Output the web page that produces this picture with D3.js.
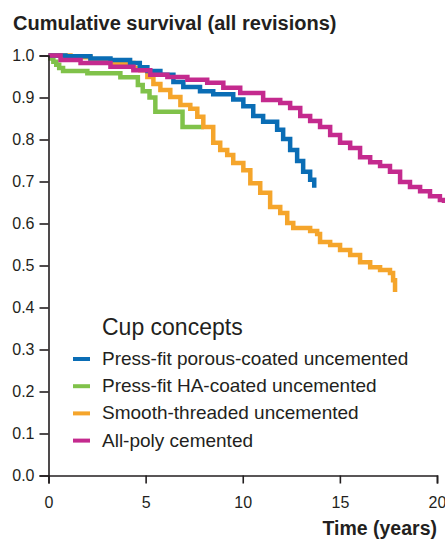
<!DOCTYPE html>
<html>
<head>
<meta charset="utf-8">
<script src="https://d3js.org/d3.v7.min.js"></script>
<style>
  body { margin: 0; background: #fff; }
  svg text { font-family: "Liberation Sans", Arial, Helvetica, sans-serif; fill: #231f20; }
</style>
</head>
<body>
<svg id="chart" width="445" height="540"></svg>
<script>
// Kaplan-Meier survival estimates (time in years, survival)
var poroTime = [0, 0.87, 2.16, 3.19, 4.2, 4.7, 5.09, 5.76, 6.43, 6.94, 7.8, 8.48, 9.51, 10.03, 10.54, 11.05, 11.77, 12.08, 12.44, 12.8, 13.11, 13.47, 13.68, 13.68];
var poroSurv = [1.0, 0.998, 0.993, 0.989, 0.982, 0.972, 0.963, 0.954, 0.937, 0.925, 0.915, 0.908, 0.895, 0.879, 0.856, 0.842, 0.823, 0.801, 0.775, 0.749, 0.723, 0.704, 0.685, 0.685];

var haTime = [0, 0.1, 0.25, 0.4, 0.55, 0.75, 2.0, 3.7, 4.6, 4.85, 5.2, 5.5, 6.9, 8.0];
var haSurv = [1.0, 0.993, 0.985, 0.978, 0.97, 0.963, 0.958, 0.948, 0.93, 0.915, 0.90, 0.866, 0.83, 0.83];

var smoothTime = [0, 1.13, 2.16, 3.19, 4.37, 4.73, 5.09, 5.4, 5.76, 6.27, 6.79, 7.3, 7.66, 7.97, 8.48, 8.84, 9.2, 9.51, 10.03, 10.39, 10.9, 11.41, 11.93, 12.29, 12.6, 13.47, 13.83, 13.98, 14.5, 15.01, 15.53, 16.04, 16.56, 17.07, 17.58, 17.74, 17.84, 17.84];
var smoothSurv = [1.0, 0.996, 0.989, 0.982, 0.970, 0.965, 0.949, 0.932, 0.918, 0.901, 0.882, 0.873, 0.854, 0.830, 0.792, 0.775, 0.763, 0.744, 0.727, 0.696, 0.673, 0.639, 0.625, 0.601, 0.589, 0.582, 0.575, 0.556, 0.549, 0.537, 0.525, 0.508, 0.496, 0.489, 0.482, 0.465, 0.437, 0.437];

var polyTime = [0, 0.62, 1.65, 3.19, 4.37, 5.24, 6.12, 7.15, 8.17, 9.0, 9.87, 11.05, 11.93, 12.44, 12.96, 13.47, 13.98, 14.5, 15.01, 15.53, 16.04, 16.56, 17.07, 17.58, 18.1, 18.61, 19.13, 19.64, 20.15, 20.36];
var polySurv = [1.0, 0.989, 0.982, 0.973, 0.965, 0.954, 0.949, 0.942, 0.935, 0.923, 0.911, 0.894, 0.887, 0.875, 0.856, 0.844, 0.830, 0.811, 0.792, 0.780, 0.758, 0.746, 0.737, 0.723, 0.699, 0.687, 0.677, 0.665, 0.656, 0.649];

var seriesNames = ["Press-fit porous-coated uncemented", "Press-fit HA-coated uncemented", "Smooth-threaded uncemented", "All-poly cemented"];
var seriesColors = ["#0a6db5", "#80c24a", "#f5a52b", "#c42a8e"];
var xTicks = [0, 5, 10, 15, 20];
var yTicks = [0, 0.1, 0.2, 0.3, 0.4, 0.5, 0.6, 0.7, 0.8, 0.9, 1.0];

var series = [
  { name: seriesNames[0], color: seriesColors[0], t: poroTime, s: poroSurv },
  { name: seriesNames[1], color: seriesColors[1], t: haTime, s: haSurv },
  { name: seriesNames[2], color: seriesColors[2], t: smoothTime, s: smoothSurv },
  { name: seriesNames[3], color: seriesColors[3], t: polyTime, s: polySurv }
];
var drawOrder = [1, 2, 0, 3];

var plotL = 48.5, plotR = 437, plotT = 55.5, plotB = 475.5;

var svg = d3.select("#chart");

var x = d3.scaleLinear().domain([0, 20]).range([plotL, plotR]);
var y = d3.scaleLinear().domain([0, 1]).range([plotB, plotT]);

svg.append("text")
  .attr("x", 13).attr("y", 30)
  .style("font-size", "20px").style("font-weight", "bold")
  .text("Cumulative survival (all revisions)");

// curves
var line = d3.line()
  .x(function(d) { return x(d[0]); })
  .y(function(d) { return y(d[1]); })
  .curve(d3.curveStepAfter);

drawOrder.forEach(function(i) {
  var sr = series[i];
  var pts = sr.t.map(function(t, j) { return [t, sr.s[j]]; });
  svg.append("path")
    .attr("d", line(pts))
    .attr("fill", "none")
    .attr("stroke", sr.color)
    .attr("stroke-width", 4.5)
    .attr("stroke-linejoin", "miter");
});

// axes
var yAxis = svg.append("g")
  .attr("transform", "translate(" + plotL + ",0)")
  .call(d3.axisLeft(y).tickValues(yTicks).tickFormat(d3.format(".1f")).tickSize(9).tickPadding(5));
var xAxis = svg.append("g")
  .attr("transform", "translate(0," + plotB + ")")
  .call(d3.axisBottom(x).tickValues(xTicks).tickSize(8).tickPadding(13));

[xAxis, yAxis].forEach(function(g) {
  g.select(".domain").attr("stroke", "#231f20").attr("stroke-width", 1.6);
  g.selectAll(".tick line").attr("stroke", "#231f20").attr("stroke-width", 1.6);
  g.selectAll(".tick text").style("font-size", "16px").attr("fill", "#231f20")
    .style("font-family", "'Liberation Sans', Arial, sans-serif");
});

svg.append("text")
  .attr("x", 437).attr("y", 535)
  .attr("text-anchor", "end")
  .style("font-size", "19.5px").style("font-weight", "bold")
  .text("Time (years)");

// legend
var legend = svg.append("g");
legend.append("text")
  .attr("x", 102).attr("y", 335)
  .style("font-size", "23px")
  .text("Cup concepts");

series.forEach(function(sr, i) {
  var by = 365 + i * 27.2;
  legend.append("line")
    .attr("x1", 73).attr("x2", 90)
    .attr("y1", by - 6).attr("y2", by - 6)
    .attr("stroke", sr.color).attr("stroke-width", 4);
  legend.append("text")
    .attr("x", 102).attr("y", by)
    .style("font-size", "19px")
    .text(sr.name);
});
</script>
</body>
</html>
